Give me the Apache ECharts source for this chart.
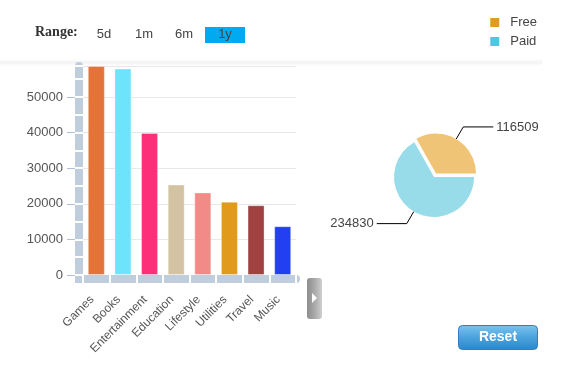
<!DOCTYPE html>
<html><head><meta charset="utf-8">
<script src="https://cdn.jsdelivr.net/npm/echarts@6/dist/echarts.min.js"></script>
<style>html,body{margin:0;padding:0;background:#fff}#c{width:583px;height:390px}</style>
</head><body><div id="c"></div>
<script>
const categories = ['Games','Books','Entertainment','Education','Lifestyle','Utilities','Travel','Music'];
const barValues = [58700, 58000, 39900, 25400, 23200, 20600, 19600, 13700];
const barColors = ['#e4733a','#6de4fc','#fe2f79','#d3c3a3','#f28a88','#e09b1d','#a14142','#2240f2'];
const pieNames = ['Free','Paid'];
const pieValues = [116509, 234830];
const pieColors = ['#f0c477','#98dcea'];
const legendColors = ['#e39b1f','#4cc8e2'];
const rangeButtons = ['5d','1m','6m','1y'];

const FONT = '"Liberation Sans", Arial, sans-serif';
const BAND = '#bfcddd';
const YMAX = 58700;

const chart = echarts.init(document.getElementById('c'), null, {renderer:'canvas'});
const btnX = [104, 144, 184, 225];
const graphics = [
  {type:'rect', left:0, top:59, shape:{width:542, height:7}, style:{fill:new echarts.graphic.LinearGradient(0,0,0,1,[{offset:0,color:'#ffffff'},{offset:0.5,color:'#f3f3f3'},{offset:1,color:'#ffffff'}])}, z:-1},
  {type:'text', left:35, top:25, style:{text:'Range:', font:'bold 14px "Liberation Serif", "Times New Roman", serif', fill:'#333'}},
  {type:'rect', left:205, top:27, shape:{width:40, height:16}, style:{fill:'#00aaf0'}},
  {type:'rect', left:75, top:276, shape:{width:8, height:7}, style:{fill:BAND}},
  {type:'rect', left:307, top:278, shape:{width:15, height:41, r:3}, style:{fill:new echarts.graphic.LinearGradient(0,0,1,0,[{offset:0,color:'#8c8c8c'},{offset:0.6,color:'#b0b0b0'},{offset:1,color:'#cfcfcf'}])}},
  {type:'polygon', shape:{points:[[312,293],[317,298],[312,303]]}, style:{fill:'#fff'}},
  {type:'rect', left:458, top:325, shape:{width:79, height:24, r:4}, style:{fill:new echarts.graphic.LinearGradient(0,0,0,1,[{offset:0,color:'#7cc4ee'},{offset:0.5,color:'#4aa3dc'},{offset:1,color:'#2c86c8'}]), stroke:'#2f7fbf', lineWidth:1}},
  {type:'text', x:498, y:337, style:{text:'Reset', font:'bold 14px '+FONT, fill:'#fff', align:'center', verticalAlign:'middle'}}
];
rangeButtons.forEach((t,i)=>{
  graphics.push({type:'text', x:btnX[i], y:34, style:{text:t, font:'13px '+FONT, fill:'#444', align:'center', verticalAlign:'middle'}});
});

chart.setOption({
  animation:false,
  textStyle:{fontFamily:FONT},
  grid:{left:83, right:287, top:66, bottom:115, containLabel:false},
  legend:{
    orient:'vertical', right:41, top:11, icon:'rect', itemWidth:9, itemHeight:9, itemGap:6,
    selectedMode:false,
    textStyle:{fontSize:13, color:'#444', fontFamily:FONT, padding:[0,0,0,6]},
    data:pieNames.map((n,i)=>({name:n, itemStyle:{color:legendColors[i]}}))
  },
  xAxis:[
    {type:'category', data:categories, position:'bottom', offset:4,
     axisLine:{show:true, onZero:false, lineStyle:{color:BAND, width:8}},
     axisTick:{show:false},
     axisLabel:{rotate:45, margin:23, verticalAlign:'bottom', fontSize:12, color:'#555', fontFamily:FONT, interval:0},
     splitLine:{show:false}},
    {type:'category', data:categories, position:'bottom', offset:0, z:3,
     axisLine:{show:false, onZero:false},
     axisTick:{show:true, interval:0, length:8, lineStyle:{color:'#fff', width:2}},
     axisLabel:{show:false, interval:0}, splitLine:{show:false}}
  ],
  yAxis:[
    {type:'value', min:0, max:YMAX, interval:10000, position:'left', offset:4,
     axisLine:{show:true, lineStyle:{color:BAND, width:8}},
     axisTick:{show:false}, axisLabel:{show:false},
     splitLine:{show:true, lineStyle:{color:'#e8e8e8', width:1}}},
    {type:'value', min:0, max:YMAX, interval:10000, position:'left', offset:8,
     axisLine:{show:false},
     axisTick:{show:true, length:8, lineStyle:{color:'#aebfd6', width:1}},
     axisLabel:{show:true, margin:12, fontSize:13, color:'#555', fontFamily:FONT, showMaxLabel:false, formatter:v=>String(v)},
     splitLine:{show:false}},
    {type:'value', min:0, max:YMAX, interval:5000, position:'left', offset:0, z:3,
     axisLine:{show:false},
     axisTick:{show:true, length:8, lineStyle:{color:'#fff', width:2}},
     axisLabel:{show:false}, splitLine:{show:false}}
  ],
  series:[
    {type:'bar', xAxisIndex:0, yAxisIndex:0, barCategoryGap:'36%',
     data:barValues.map((v,i)=>({value:v, itemStyle:{color:barColors[i]}})),
     itemStyle:{borderColor:'rgba(255,255,255,0.35)', borderWidth:1}},
    {type:'pie', center:[434,177], radius:40, startAngle:0, clockwise:false,
     selectedMode:'single', selectedOffset:4,
     data:pieNames.map((n,i)=>({name:n, value:pieValues[i], selected:i===0, itemStyle:{color:pieColors[i]}})),
     itemStyle:{borderWidth:0},
     label:{show:true, formatter:'{c}', fontSize:13, color:'#444', fontFamily:FONT, distanceToLabelLine:3},
     labelLine:{show:true, length:14, length2:30, lineStyle:{color:'#000', width:1}},
     emphasis:{disabled:true}}
  ],
  graphic:graphics
});
</script></body></html>
